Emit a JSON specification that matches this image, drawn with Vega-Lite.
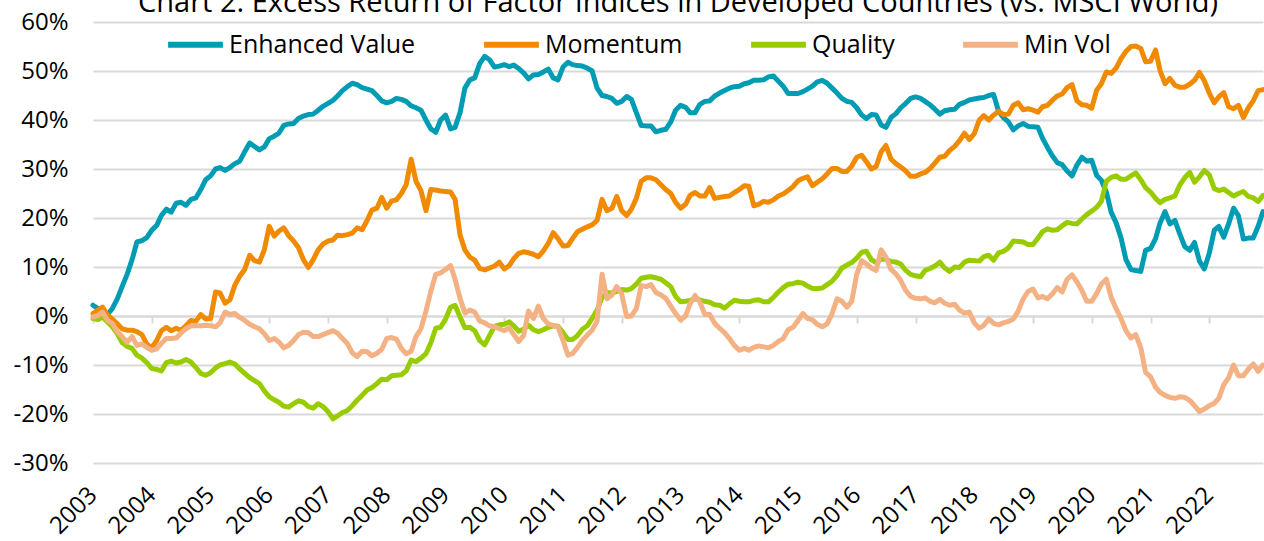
{
  "$schema": "https://vega.github.io/schema/vega-lite/v6.json",
  "autosize": "none",
  "width": 1170,
  "height": 441,
  "padding": {"left": 93, "top": 22, "right": 1, "bottom": 78},
  "background": "white",
  "title": {"text": "Chart 2: Excess Return of Factor Indices in Developed Countries (vs. MSCI World)", "fontSize": 29, "font": "Open Sans", "fontWeight": "normal", "color": "#000000", "anchor": "middle", "offset": -8},
  "config": {"view": {"stroke": null}, "font": "Open Sans"},
  "data": {"values": [
    {"d":"2003-01","EV":2.2,"MO":0.5,"QU":-0.5,"MV":-0.2},
    {"d":"2003-02","EV":1.5,"MO":1.2,"QU":-0.7,"MV":0.1},
    {"d":"2003-03","EV":0.0,"MO":1.8,"QU":-0.2,"MV":0.8},
    {"d":"2003-04","EV":0.3,"MO":0.2,"QU":-1.2,"MV":-0.9},
    {"d":"2003-05","EV":1.5,"MO":-0.6,"QU":-2.2,"MV":-1.5},
    {"d":"2003-06","EV":3.5,"MO":-1.6,"QU":-3.6,"MV":-3.2},
    {"d":"2003-07","EV":6.0,"MO":-2.6,"QU":-5.4,"MV":-4.2},
    {"d":"2003-08","EV":8.5,"MO":-2.9,"QU":-6.2,"MV":-5.4},
    {"d":"2003-09","EV":11.5,"MO":-2.9,"QU":-6.6,"MV":-4.2},
    {"d":"2003-10","EV":15.1,"MO":-3.2,"QU":-8.0,"MV":-6.0},
    {"d":"2003-11","EV":15.4,"MO":-3.8,"QU":-8.6,"MV":-5.7},
    {"d":"2003-12","EV":16.0,"MO":-5.7,"QU":-9.5,"MV":-6.4},
    {"d":"2004-01","EV":17.5,"MO":-6.5,"QU":-10.7,"MV":-7.0},
    {"d":"2004-02","EV":18.5,"MO":-5.0,"QU":-10.9,"MV":-6.7},
    {"d":"2004-03","EV":20.5,"MO":-3.0,"QU":-11.2,"MV":-5.6},
    {"d":"2004-04","EV":21.8,"MO":-2.3,"QU":-9.5,"MV":-4.6},
    {"d":"2004-05","EV":21.2,"MO":-3.0,"QU":-9.2,"MV":-4.6},
    {"d":"2004-06","EV":23.0,"MO":-2.5,"QU":-9.6,"MV":-4.5},
    {"d":"2004-07","EV":23.2,"MO":-2.9,"QU":-9.4,"MV":-3.5},
    {"d":"2004-08","EV":22.6,"MO":-2.0,"QU":-8.9,"MV":-2.6},
    {"d":"2004-09","EV":23.8,"MO":-0.9,"QU":-9.4,"MV":-2.0},
    {"d":"2004-10","EV":24.1,"MO":-1.1,"QU":-10.5,"MV":-2.0},
    {"d":"2004-11","EV":25.8,"MO":0.3,"QU":-11.7,"MV":-2.0},
    {"d":"2004-12","EV":27.8,"MO":-0.6,"QU":-12.1,"MV":-1.9},
    {"d":"2005-01","EV":28.6,"MO":-0.5,"QU":-11.6,"MV":-2.0},
    {"d":"2005-02","EV":30.0,"MO":4.9,"QU":-10.6,"MV":-2.2},
    {"d":"2005-03","EV":30.3,"MO":4.7,"QU":-10.0,"MV":-1.4},
    {"d":"2005-04","EV":29.7,"MO":2.6,"QU":-9.7,"MV":0.8},
    {"d":"2005-05","EV":30.3,"MO":3.3,"QU":-9.4,"MV":0.3},
    {"d":"2005-06","EV":31.1,"MO":6.3,"QU":-9.8,"MV":0.5},
    {"d":"2005-07","EV":31.6,"MO":8.1,"QU":-10.8,"MV":-0.3},
    {"d":"2005-08","EV":33.5,"MO":9.5,"QU":-11.7,"MV":-0.9},
    {"d":"2005-09","EV":35.3,"MO":12.4,"QU":-12.6,"MV":-1.7},
    {"d":"2005-10","EV":34.6,"MO":11.3,"QU":-13.2,"MV":-2.2},
    {"d":"2005-11","EV":33.9,"MO":11.0,"QU":-13.8,"MV":-2.6},
    {"d":"2005-12","EV":34.5,"MO":13.5,"QU":-15.3,"MV":-3.6},
    {"d":"2006-01","EV":36.2,"MO":18.3,"QU":-16.5,"MV":-5.0},
    {"d":"2006-02","EV":36.7,"MO":16.3,"QU":-17.1,"MV":-4.6},
    {"d":"2006-03","EV":37.3,"MO":17.3,"QU":-17.6,"MV":-5.3},
    {"d":"2006-04","EV":38.9,"MO":18.0,"QU":-18.4,"MV":-6.5},
    {"d":"2006-05","EV":39.2,"MO":16.4,"QU":-18.6,"MV":-6.0},
    {"d":"2006-06","EV":39.3,"MO":15.3,"QU":-17.9,"MV":-5.0},
    {"d":"2006-07","EV":40.3,"MO":14.0,"QU":-17.3,"MV":-3.8},
    {"d":"2006-08","EV":40.8,"MO":11.5,"QU":-17.6,"MV":-3.3},
    {"d":"2006-09","EV":41.1,"MO":9.9,"QU":-18.5,"MV":-3.4},
    {"d":"2006-10","EV":41.2,"MO":11.5,"QU":-18.8,"MV":-4.2},
    {"d":"2006-11","EV":42.0,"MO":13.5,"QU":-17.9,"MV":-4.2},
    {"d":"2006-12","EV":42.8,"MO":14.7,"QU":-18.5,"MV":-3.8},
    {"d":"2007-01","EV":43.4,"MO":15.3,"QU":-19.5,"MV":-3.4},
    {"d":"2007-02","EV":44.0,"MO":15.5,"QU":-21.0,"MV":-3.0},
    {"d":"2007-03","EV":44.9,"MO":16.5,"QU":-20.4,"MV":-3.5},
    {"d":"2007-04","EV":46.0,"MO":16.4,"QU":-19.7,"MV":-4.6},
    {"d":"2007-05","EV":46.8,"MO":16.6,"QU":-19.3,"MV":-5.6},
    {"d":"2007-06","EV":47.5,"MO":16.9,"QU":-18.3,"MV":-7.5},
    {"d":"2007-07","EV":47.2,"MO":18.0,"QU":-17.2,"MV":-8.3},
    {"d":"2007-08","EV":46.6,"MO":17.6,"QU":-16.2,"MV":-7.2},
    {"d":"2007-09","EV":46.3,"MO":19.5,"QU":-15.1,"MV":-7.3},
    {"d":"2007-10","EV":46.0,"MO":21.6,"QU":-14.6,"MV":-8.1},
    {"d":"2007-11","EV":45.0,"MO":22.0,"QU":-13.8,"MV":-7.6},
    {"d":"2007-12","EV":43.9,"MO":24.2,"QU":-12.9,"MV":-6.8},
    {"d":"2008-01","EV":43.5,"MO":22.0,"QU":-13.0,"MV":-4.6},
    {"d":"2008-02","EV":43.8,"MO":23.5,"QU":-12.2,"MV":-4.4},
    {"d":"2008-03","EV":44.4,"MO":23.7,"QU":-12.1,"MV":-4.7},
    {"d":"2008-04","EV":44.2,"MO":25.0,"QU":-12.0,"MV":-6.6},
    {"d":"2008-05","EV":43.8,"MO":26.8,"QU":-11.2,"MV":-7.7},
    {"d":"2008-06","EV":42.9,"MO":32.0,"QU":-9.0,"MV":-7.2},
    {"d":"2008-07","EV":42.5,"MO":27.5,"QU":-9.3,"MV":-4.2},
    {"d":"2008-08","EV":42.0,"MO":25.6,"QU":-8.6,"MV":-2.6},
    {"d":"2008-09","EV":40.0,"MO":21.5,"QU":-7.7,"MV":1.0},
    {"d":"2008-10","EV":38.2,"MO":25.8,"QU":-5.5,"MV":5.0},
    {"d":"2008-11","EV":37.5,"MO":25.7,"QU":-2.5,"MV":8.5},
    {"d":"2008-12","EV":40.0,"MO":25.5,"QU":-2.3,"MV":8.8},
    {"d":"2009-01","EV":41.0,"MO":25.4,"QU":-0.6,"MV":9.5},
    {"d":"2009-02","EV":38.2,"MO":25.3,"QU":1.8,"MV":10.3},
    {"d":"2009-03","EV":38.5,"MO":23.8,"QU":2.2,"MV":7.5},
    {"d":"2009-04","EV":41.5,"MO":16.5,"QU":-0.2,"MV":3.6},
    {"d":"2009-05","EV":46.5,"MO":13.5,"QU":-2.4,"MV":0.6},
    {"d":"2009-06","EV":48.2,"MO":12.0,"QU":-2.3,"MV":1.2},
    {"d":"2009-07","EV":48.6,"MO":11.4,"QU":-3.0,"MV":0.8},
    {"d":"2009-08","EV":51.5,"MO":9.7,"QU":-5.0,"MV":-1.0},
    {"d":"2009-09","EV":53.0,"MO":9.4,"QU":-5.9,"MV":-1.4},
    {"d":"2009-10","EV":52.3,"MO":9.8,"QU":-4.0,"MV":-2.0},
    {"d":"2009-11","EV":50.8,"MO":10.2,"QU":-2.1,"MV":-2.2},
    {"d":"2009-12","EV":51.0,"MO":11.0,"QU":-1.8,"MV":-2.6},
    {"d":"2010-01","EV":51.3,"MO":9.6,"QU":-1.7,"MV":-3.0},
    {"d":"2010-02","EV":50.9,"MO":10.3,"QU":-1.2,"MV":-2.4},
    {"d":"2010-03","EV":51.2,"MO":11.7,"QU":-2.0,"MV":-3.8},
    {"d":"2010-04","EV":50.5,"MO":12.8,"QU":-3.1,"MV":-5.2},
    {"d":"2010-05","EV":49.6,"MO":13.1,"QU":-2.7,"MV":-4.0},
    {"d":"2010-06","EV":48.4,"MO":12.9,"QU":-1.9,"MV":1.0},
    {"d":"2010-07","EV":49.2,"MO":12.6,"QU":-2.8,"MV":-0.5},
    {"d":"2010-08","EV":49.3,"MO":12.1,"QU":-3.2,"MV":2.0},
    {"d":"2010-09","EV":49.8,"MO":13.3,"QU":-2.8,"MV":-0.5},
    {"d":"2010-10","EV":50.4,"MO":14.8,"QU":-2.3,"MV":-1.6},
    {"d":"2010-11","EV":48.6,"MO":17.0,"QU":-2.0,"MV":-1.9},
    {"d":"2010-12","EV":48.2,"MO":15.8,"QU":-2.1,"MV":-2.2},
    {"d":"2011-01","EV":50.8,"MO":14.3,"QU":-3.4,"MV":-5.0},
    {"d":"2011-02","EV":51.8,"MO":14.4,"QU":-4.8,"MV":-8.0},
    {"d":"2011-03","EV":51.3,"MO":15.8,"QU":-4.8,"MV":-7.7},
    {"d":"2011-04","EV":51.1,"MO":17.2,"QU":-4.0,"MV":-6.4},
    {"d":"2011-05","EV":51.0,"MO":17.7,"QU":-2.7,"MV":-5.0},
    {"d":"2011-06","EV":50.6,"MO":18.2,"QU":-2.0,"MV":-3.9},
    {"d":"2011-07","EV":50.0,"MO":18.6,"QU":-0.5,"MV":-2.9},
    {"d":"2011-08","EV":46.5,"MO":19.5,"QU":1.2,"MV":-1.0},
    {"d":"2011-09","EV":45.0,"MO":23.8,"QU":3.8,"MV":8.5},
    {"d":"2011-10","EV":44.8,"MO":21.5,"QU":4.8,"MV":3.5},
    {"d":"2011-11","EV":44.4,"MO":22.0,"QU":4.7,"MV":4.3},
    {"d":"2011-12","EV":43.4,"MO":24.4,"QU":5.0,"MV":6.0},
    {"d":"2012-01","EV":43.8,"MO":21.5,"QU":5.4,"MV":4.5},
    {"d":"2012-02","EV":44.8,"MO":20.5,"QU":5.3,"MV":-0.1},
    {"d":"2012-03","EV":44.2,"MO":21.8,"QU":5.6,"MV":0.0},
    {"d":"2012-04","EV":41.5,"MO":24.0,"QU":6.5,"MV":1.5},
    {"d":"2012-05","EV":38.9,"MO":27.5,"QU":7.7,"MV":6.2},
    {"d":"2012-06","EV":38.8,"MO":28.2,"QU":7.9,"MV":6.0},
    {"d":"2012-07","EV":38.8,"MO":28.2,"QU":8.0,"MV":6.4},
    {"d":"2012-08","EV":37.6,"MO":27.8,"QU":7.8,"MV":4.8},
    {"d":"2012-09","EV":37.9,"MO":26.8,"QU":7.5,"MV":4.3},
    {"d":"2012-10","EV":38.1,"MO":25.8,"QU":6.8,"MV":3.6},
    {"d":"2012-11","EV":39.6,"MO":25.0,"QU":6.0,"MV":2.0},
    {"d":"2012-12","EV":42.0,"MO":23.2,"QU":4.0,"MV":0.5},
    {"d":"2013-01","EV":43.0,"MO":22.0,"QU":2.9,"MV":-0.8},
    {"d":"2013-02","EV":42.6,"MO":22.8,"QU":3.0,"MV":0.0},
    {"d":"2013-03","EV":41.5,"MO":24.6,"QU":3.2,"MV":2.5},
    {"d":"2013-04","EV":41.5,"MO":25.2,"QU":3.5,"MV":4.2},
    {"d":"2013-05","EV":43.2,"MO":24.5,"QU":3.3,"MV":2.9},
    {"d":"2013-06","EV":43.8,"MO":24.5,"QU":3.0,"MV":0.3},
    {"d":"2013-07","EV":43.9,"MO":26.2,"QU":2.8,"MV":0.3},
    {"d":"2013-08","EV":44.9,"MO":24.0,"QU":2.3,"MV":-1.5},
    {"d":"2013-09","EV":45.5,"MO":24.2,"QU":2.2,"MV":-2.5},
    {"d":"2013-10","EV":46.0,"MO":24.4,"QU":1.6,"MV":-3.4},
    {"d":"2013-11","EV":46.5,"MO":24.5,"QU":2.5,"MV":-4.6},
    {"d":"2013-12","EV":46.8,"MO":25.2,"QU":3.2,"MV":-6.0},
    {"d":"2014-01","EV":46.9,"MO":25.8,"QU":3.0,"MV":-7.0},
    {"d":"2014-02","EV":47.4,"MO":26.6,"QU":2.9,"MV":-6.6},
    {"d":"2014-03","EV":47.6,"MO":26.5,"QU":2.9,"MV":-7.0},
    {"d":"2014-04","EV":48.1,"MO":22.5,"QU":3.2,"MV":-6.4},
    {"d":"2014-05","EV":48.1,"MO":22.8,"QU":3.3,"MV":-6.1},
    {"d":"2014-06","EV":48.2,"MO":23.4,"QU":2.9,"MV":-6.3},
    {"d":"2014-07","EV":48.8,"MO":23.2,"QU":2.9,"MV":-6.5},
    {"d":"2014-08","EV":49.0,"MO":23.7,"QU":3.8,"MV":-6.0},
    {"d":"2014-09","EV":47.9,"MO":24.5,"QU":4.9,"MV":-5.2},
    {"d":"2014-10","EV":46.9,"MO":24.9,"QU":5.8,"MV":-4.6},
    {"d":"2014-11","EV":45.4,"MO":25.6,"QU":6.5,"MV":-2.8},
    {"d":"2014-12","EV":45.4,"MO":26.4,"QU":6.6,"MV":-2.3},
    {"d":"2015-01","EV":45.4,"MO":27.6,"QU":6.9,"MV":-0.9},
    {"d":"2015-02","EV":45.8,"MO":28.1,"QU":6.7,"MV":0.5},
    {"d":"2015-03","EV":46.3,"MO":28.4,"QU":6.1,"MV":-0.5},
    {"d":"2015-04","EV":46.9,"MO":26.6,"QU":5.6,"MV":-0.8},
    {"d":"2015-05","EV":47.8,"MO":27.3,"QU":5.6,"MV":-1.7},
    {"d":"2015-06","EV":48.1,"MO":28.0,"QU":5.7,"MV":-2.2},
    {"d":"2015-07","EV":47.5,"MO":29.0,"QU":6.4,"MV":-1.6},
    {"d":"2015-08","EV":46.5,"MO":30.1,"QU":7.1,"MV":0.5},
    {"d":"2015-09","EV":45.5,"MO":30.1,"QU":8.3,"MV":3.5},
    {"d":"2015-10","EV":44.4,"MO":29.5,"QU":9.8,"MV":3.0},
    {"d":"2015-11","EV":43.8,"MO":29.5,"QU":10.4,"MV":1.8},
    {"d":"2015-12","EV":43.6,"MO":30.6,"QU":10.9,"MV":3.0},
    {"d":"2016-01","EV":42.5,"MO":32.4,"QU":11.8,"MV":8.5},
    {"d":"2016-02","EV":41.0,"MO":32.8,"QU":13.0,"MV":11.3},
    {"d":"2016-03","EV":40.3,"MO":31.5,"QU":13.2,"MV":10.6},
    {"d":"2016-04","EV":41.1,"MO":30.0,"QU":11.5,"MV":9.8},
    {"d":"2016-05","EV":41.0,"MO":30.5,"QU":10.9,"MV":9.3},
    {"d":"2016-06","EV":39.0,"MO":33.5,"QU":11.6,"MV":13.5},
    {"d":"2016-07","EV":38.5,"MO":34.8,"QU":11.6,"MV":12.0},
    {"d":"2016-08","EV":40.5,"MO":32.0,"QU":11.1,"MV":9.5},
    {"d":"2016-09","EV":41.3,"MO":31.1,"QU":11.0,"MV":8.6},
    {"d":"2016-10","EV":42.5,"MO":30.4,"QU":10.6,"MV":7.2},
    {"d":"2016-11","EV":43.4,"MO":29.6,"QU":9.3,"MV":5.2},
    {"d":"2016-12","EV":44.4,"MO":28.5,"QU":8.5,"MV":4.0},
    {"d":"2017-01","EV":44.7,"MO":28.5,"QU":8.2,"MV":3.6},
    {"d":"2017-02","EV":44.4,"MO":29.0,"QU":8.0,"MV":3.5},
    {"d":"2017-03","EV":43.8,"MO":29.3,"QU":9.3,"MV":3.7},
    {"d":"2017-04","EV":43.1,"MO":30.1,"QU":9.7,"MV":3.0},
    {"d":"2017-05","EV":42.2,"MO":31.2,"QU":10.2,"MV":2.7},
    {"d":"2017-06","EV":41.2,"MO":32.4,"QU":11.0,"MV":3.4},
    {"d":"2017-07","EV":41.9,"MO":32.6,"QU":9.8,"MV":2.6},
    {"d":"2017-08","EV":42.1,"MO":33.8,"QU":9.1,"MV":2.2},
    {"d":"2017-09","EV":42.2,"MO":34.6,"QU":10.0,"MV":2.4},
    {"d":"2017-10","EV":43.2,"MO":35.8,"QU":9.9,"MV":1.2},
    {"d":"2017-11","EV":43.6,"MO":37.3,"QU":11.0,"MV":0.6},
    {"d":"2017-12","EV":44.1,"MO":36.0,"QU":11.4,"MV":0.8},
    {"d":"2018-01","EV":44.3,"MO":37.2,"QU":11.3,"MV":-1.4},
    {"d":"2018-02","EV":44.5,"MO":40.0,"QU":11.2,"MV":-2.5},
    {"d":"2018-03","EV":44.6,"MO":40.9,"QU":12.1,"MV":-1.9},
    {"d":"2018-04","EV":45.0,"MO":40.0,"QU":12.4,"MV":-0.6},
    {"d":"2018-05","EV":45.2,"MO":41.0,"QU":11.4,"MV":-1.5},
    {"d":"2018-06","EV":41.8,"MO":41.8,"QU":12.9,"MV":-1.8},
    {"d":"2018-07","EV":40.5,"MO":41.1,"QU":13.2,"MV":-1.4},
    {"d":"2018-08","EV":39.6,"MO":41.2,"QU":13.9,"MV":-1.1},
    {"d":"2018-09","EV":38.0,"MO":43.0,"QU":15.3,"MV":-0.6},
    {"d":"2018-10","EV":38.8,"MO":43.5,"QU":15.2,"MV":1.0},
    {"d":"2018-11","EV":39.3,"MO":42.1,"QU":15.1,"MV":3.5},
    {"d":"2018-12","EV":38.7,"MO":42.3,"QU":14.6,"MV":5.0},
    {"d":"2019-01","EV":38.6,"MO":42.0,"QU":14.6,"MV":5.5},
    {"d":"2019-02","EV":38.5,"MO":41.6,"QU":15.9,"MV":3.7},
    {"d":"2019-03","EV":36.3,"MO":42.7,"QU":17.2,"MV":4.0},
    {"d":"2019-04","EV":34.4,"MO":43.0,"QU":17.8,"MV":3.5},
    {"d":"2019-05","EV":32.7,"MO":44.0,"QU":17.5,"MV":4.5},
    {"d":"2019-06","EV":31.3,"MO":44.9,"QU":17.6,"MV":5.8},
    {"d":"2019-07","EV":30.9,"MO":45.3,"QU":18.4,"MV":4.9},
    {"d":"2019-08","EV":29.6,"MO":46.6,"QU":19.1,"MV":7.5},
    {"d":"2019-09","EV":28.6,"MO":47.2,"QU":18.9,"MV":8.4},
    {"d":"2019-10","EV":30.8,"MO":43.9,"QU":18.8,"MV":7.0},
    {"d":"2019-11","EV":32.4,"MO":43.1,"QU":19.8,"MV":5.2},
    {"d":"2019-12","EV":31.6,"MO":43.0,"QU":20.7,"MV":3.0},
    {"d":"2020-01","EV":31.8,"MO":42.4,"QU":21.4,"MV":3.0},
    {"d":"2020-02","EV":28.7,"MO":46.1,"QU":22.2,"MV":4.6},
    {"d":"2020-03","EV":27.7,"MO":47.4,"QU":23.4,"MV":6.5},
    {"d":"2020-04","EV":25.3,"MO":49.8,"QU":27.5,"MV":7.5},
    {"d":"2020-05","EV":21.2,"MO":49.5,"QU":28.3,"MV":3.8},
    {"d":"2020-06","EV":19.0,"MO":50.6,"QU":28.6,"MV":1.5},
    {"d":"2020-07","EV":16.0,"MO":52.5,"QU":27.9,"MV":-0.5},
    {"d":"2020-08","EV":11.5,"MO":54.0,"QU":27.9,"MV":-3.0},
    {"d":"2020-09","EV":9.5,"MO":55.0,"QU":28.6,"MV":-4.5},
    {"d":"2020-10","EV":9.3,"MO":55.1,"QU":29.2,"MV":-3.8},
    {"d":"2020-11","EV":9.1,"MO":54.6,"QU":27.8,"MV":-6.5},
    {"d":"2020-12","EV":13.4,"MO":51.9,"QU":26.2,"MV":-11.5},
    {"d":"2021-01","EV":13.8,"MO":52.0,"QU":25.3,"MV":-12.4},
    {"d":"2021-02","EV":15.8,"MO":54.3,"QU":24.0,"MV":-14.5},
    {"d":"2021-03","EV":19.0,"MO":50.1,"QU":23.1,"MV":-15.6},
    {"d":"2021-04","EV":21.3,"MO":47.4,"QU":23.8,"MV":-16.2},
    {"d":"2021-05","EV":18.8,"MO":48.5,"QU":24.1,"MV":-16.6},
    {"d":"2021-06","EV":19.5,"MO":47.1,"QU":24.5,"MV":-16.8},
    {"d":"2021-07","EV":16.8,"MO":46.7,"QU":26.7,"MV":-16.5},
    {"d":"2021-08","EV":14.2,"MO":46.7,"QU":28.2,"MV":-16.6},
    {"d":"2021-09","EV":13.4,"MO":47.3,"QU":29.3,"MV":-17.2},
    {"d":"2021-10","EV":15.0,"MO":48.1,"QU":27.3,"MV":-18.3},
    {"d":"2021-11","EV":11.2,"MO":49.7,"QU":28.4,"MV":-19.5},
    {"d":"2021-12","EV":9.6,"MO":48.0,"QU":29.7,"MV":-19.0},
    {"d":"2022-01","EV":12.8,"MO":45.5,"QU":28.8,"MV":-18.3},
    {"d":"2022-02","EV":17.5,"MO":43.5,"QU":26.0,"MV":-17.8},
    {"d":"2022-03","EV":18.3,"MO":44.7,"QU":25.6,"MV":-16.8},
    {"d":"2022-04","EV":16.1,"MO":45.6,"QU":25.9,"MV":-14.0},
    {"d":"2022-05","EV":18.8,"MO":42.7,"QU":25.2,"MV":-12.6},
    {"d":"2022-06","EV":22.0,"MO":42.3,"QU":24.5,"MV":-10.0},
    {"d":"2022-07","EV":20.5,"MO":43.0,"QU":25.0,"MV":-12.2},
    {"d":"2022-08","EV":15.7,"MO":40.5,"QU":25.4,"MV":-12.2},
    {"d":"2022-09","EV":15.9,"MO":42.5,"QU":24.4,"MV":-10.8},
    {"d":"2022-10","EV":15.9,"MO":43.9,"QU":24.1,"MV":-9.8},
    {"d":"2022-11","EV":18.3,"MO":46.0,"QU":23.4,"MV":-11.3},
    {"d":"2022-12","EV":21.3,"MO":46.2,"QU":24.6,"MV":-10.0}
  ]},
  "transform": [{"fold": ["EV", "MO", "QU", "MV"], "as": ["series", "value"]}],
  "mark": {"type": "line", "strokeWidth": 5, "strokeJoin": "round", "strokeCap": "round"},
  "encoding": {
    "x": {
      "field": "d", "type": "temporal",
      "scale": {"type": "utc", "domain": [{"year": 2003, "month": 1, "date": 1, "utc": true}, {"year": 2022, "month": 12, "date": 1, "utc": true}]},
      "axis": {
        "title": null, "orient": "bottom", "offset": -147,
        "domain": true, "domainColor": "#D9D9D9", "domainWidth": 2,
        "ticks": true, "tickColor": "#D9D9D9", "tickWidth": 2, "tickSize": 7,
        "grid": false,
        "tickCount": {"interval": "year", "step": 1},
        "format": "%Y",
        "labelAngle": -45, "labelAlign": "right", "labelBaseline": "middle",
        "labelPadding": 168, "labelFontSize": 24, "labelFont": "Open Sans", "labelColor": "#000000",
        "labelOverlap": false, "labelFlush": false, "labelBound": false
      }
    },
    "y": {
      "field": "value", "type": "quantitative",
      "scale": {"domain": [-30, 60], "nice": false, "zero": false},
      "axis": {
        "title": null, "values": [-30, -20, -10, 0, 10, 20, 30, 40, 50, 60],
        "domain": false, "ticks": false, "grid": true, "gridColor": "#D9D9D9", "gridWidth": 2,
        "labelFontSize": 24, "labelFont": "Open Sans", "labelColor": "#000000", "labelPadding": 25,
        "labelExpr": "datum.value + '%'"
      }
    },
    "color": {
      "field": "series", "type": "nominal",
      "scale": {"domain": ["EV", "MO", "QU", "MV"], "range": ["#009CB4", "#F08A00", "#99CC00", "#F4B183"]},
      "legend": {
        "orient": "none", "legendX": 72, "legendY": -8, "direction": "horizontal", "title": null,
        "symbolType": "stroke", "symbolSize": 3000, "symbolStrokeWidth": 6,
        "labelFontSize": 25, "labelFont": "Open Sans", "labelColor": "#000000",
        "columnPadding": 56, "labelOffset": 3, "labelLimit": 400,
        "labelExpr": "{'EV': 'Enhanced Value', 'MO': 'Momentum', 'QU': 'Quality', 'MV': 'Min Vol'}[datum.label]"
      }
    }
  }
}
